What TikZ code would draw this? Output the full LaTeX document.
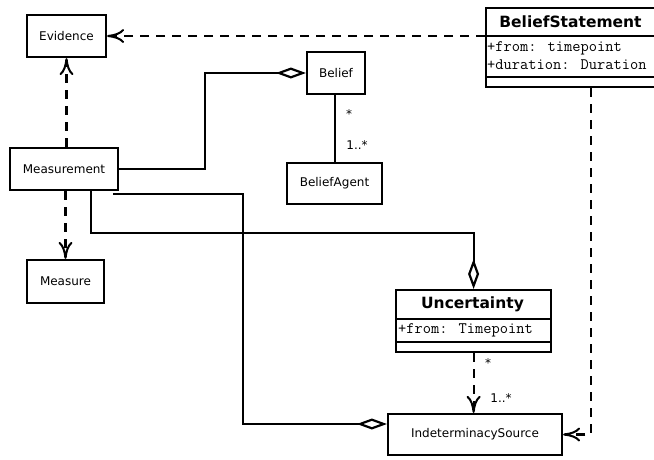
\documentclass[tikz,border=0pt]{standalone}
\usepackage{fontspec}
\setmainfont{DejaVu Sans}
\usetikzlibrary{arrows.meta}

\tikzset{
  entity/.style={draw, line width=2.2pt, minimum height=42pt, inner sep=0pt, font=\fontsize{12}{14}\selectfont},
  classbox/.style={draw, line width=2.2pt, inner sep=0pt, anchor=north west},
  classname/.style={font=\bfseries\fontsize{15.5}{18}\selectfont},
  attr/.style={anchor=west, inner sep=0pt, font=\ttfamily\fontsize{16}{18}\selectfont},
  mult/.style={inner sep=0pt, font=\fontsize{12}{14}\selectfont},
  depend/.style={line width=2.2pt, dash pattern=on 9pt off 7pt, -{Computer Modern Rightarrow[length=17pt, width=14pt, line width=2pt]}},
  aggr/.style={line width=2.2pt, -{Diamond[open, length=30pt, width=11pt, line width=2.2pt]}}
}

\begin{document}
\begin{tikzpicture}[x=1pt, y=-1pt]
\useasboundingbox (0,0) rectangle (654,459);
\clip (0,0) rectangle (654,459);

% plain entities
\node[entity, minimum width=79pt] (Evidence) at (66.5,36) {Evidence};
\node[entity, minimum width=58pt] (Belief) at (336,73) {Belief};
\node[entity, minimum width=108pt] (Measurement) at (64,169) {Measurement};
\node[entity, minimum width=95pt, minimum height=41pt] (BeliefAgent) at (334.5,183.5) {BeliefAgent};
\node[entity, minimum width=77pt, minimum height=43pt] (Measure) at (65.5,281.5) {Measure};
\node[entity, minimum width=174pt, minimum height=41pt] (Source) at (475,434.5) {IndeterminacySource};

% class BeliefStatement
\node[classbox, minimum width=171pt, minimum height=79pt] (BStmt) at (485,7) {};
\draw[line width=2.2pt] (485,36) -- (656,36);
\draw[line width=2.2pt] (485,77) -- (656,77);
\node[classname] (BStmtName) at (570.5,21.5) {BeliefStatement};
\node[attr] (BStmtFrom) at (487,48) {+from: timepoint};
\node[attr] (BStmtDur) at (487,65) {+duration: Duration};

% class Uncertainty
\node[classbox, minimum width=155pt, minimum height=62pt] (Uncertainty) at (395,289) {};
\draw[line width=2.2pt] (395,319) -- (550,319);
\draw[line width=2.2pt] (395,342) -- (550,342);
\node[classname] (UncName) at (472.5,304) {Uncertainty};
\node[attr] (UncFrom) at (398,330.5) {+from: Timepoint};

% dependencies
\draw[depend] (BStmt.west |- Evidence.east) -- (Evidence.east);
\draw[depend] (Evidence.south |- Measurement.north) -- (Evidence.south);
\draw[depend] (Measure.north |- Measurement.south) -- (Measure.north);
\draw[depend] (Uncertainty.south) -- (Uncertainty.south |- Source.north);
\draw[depend] ([xshift=19.5pt]BStmt.south) |- (Source.east);

% aggregations
\draw[aggr] (Measurement.east) -- ++(86,0) |- (Belief.west);
\draw[aggr] (Measurement.south) ++(27,0) -- ++(0,42) -| (Uncertainty.north);
\draw[aggr] (Measurement.south east) ++(-6,3) -- ++(130,0) |- ([yshift=10.5pt]Source.west);

% association
\draw[line width=2.2pt] (Belief.south -| 335,0) -- (BeliefAgent.north -| 335,0);
\node[mult] (BelMany) at (349,114) {*};
\node[mult] (AgentMany) at (357,145) {1..*};
\node[mult] (UncMany) at (488,363) {*};
\node[mult] (SrcMany) at (501,398) {1..*};

\end{tikzpicture}
\end{document}
